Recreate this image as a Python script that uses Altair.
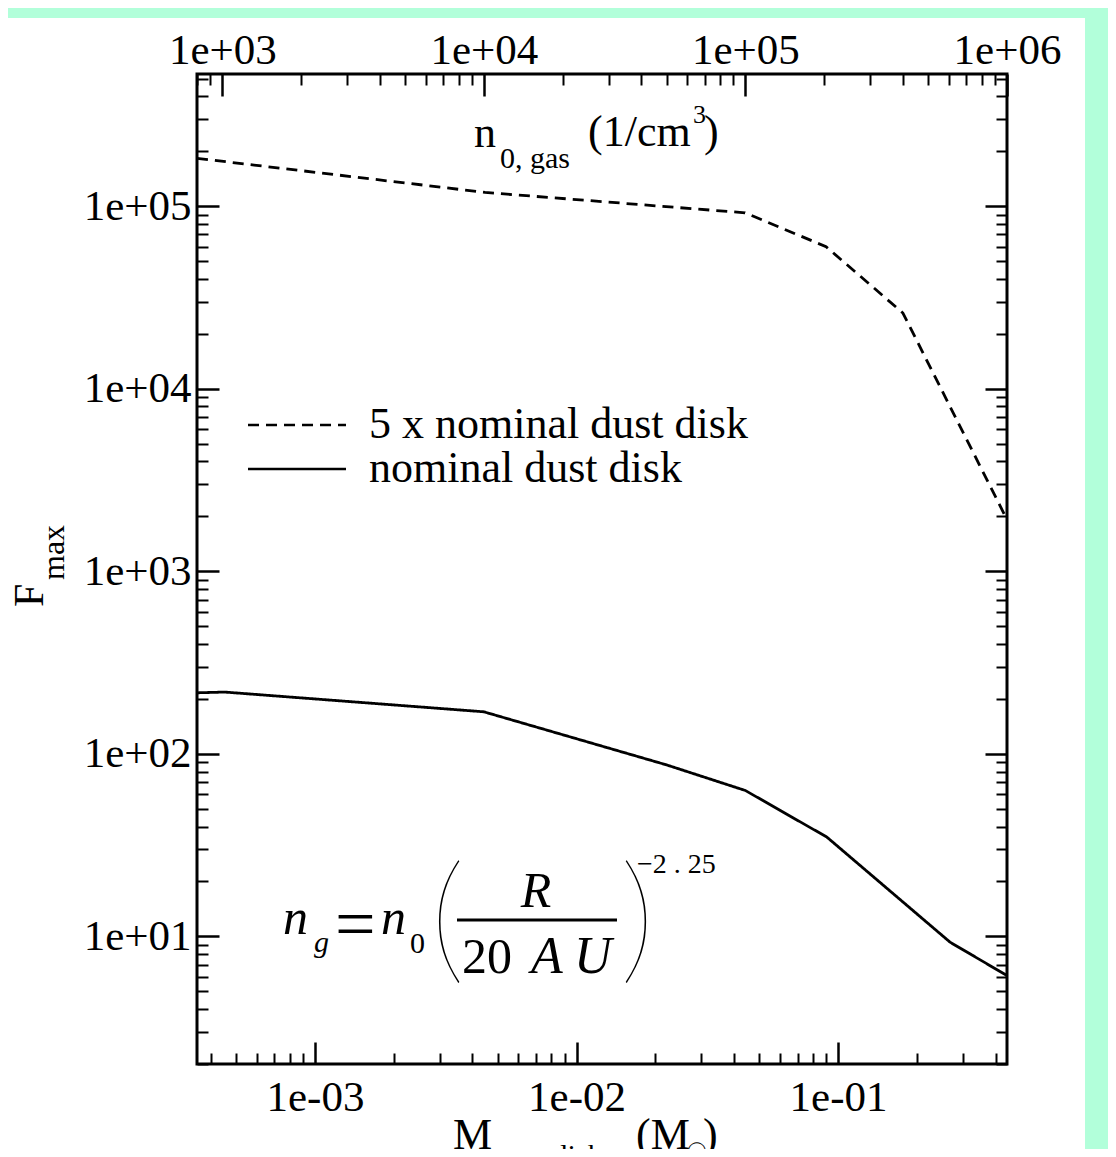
import altair as alt
import pandas as pd

# ---------------- data ----------------
series_names = ["5 x nominal dust disk", "nominal dust disk"]

dashed_mass = [3.54e-4, 4.47e-3, 0.0441, 0.090, 0.177, 0.4425]
dashed_fmax = [1.83e5, 1.19e5, 9.2e4, 6.0e4, 2.6e4, 1.92e3]

solid_mass = [3.54e-4, 4.52e-4, 4.42e-3, 0.0221, 0.0442, 0.0906, 0.268, 0.4425]
solid_fmax = [216, 218, 170, 87, 63, 35, 9.3, 6.1]

mass_domain = [3.54e-4, 0.4425]       # bottom axis, M_gas disk (M_sun)
density_domain = [800, 1.0e6]         # top axis, n_0,gas (1/cm^3)
fmax_domain = [2.0, 5.3e5]            # F_max

mass_major = [1e-3, 1e-2, 1e-1]
density_major = [1e3, 1e4, 1e5, 1e6]
fmax_major = [1e1, 1e2, 1e3, 1e4, 1e5]


def minor_ticks(lo, hi, decades):
    out = []
    for d in decades:
        for k in range(2, 10):
            v = k * d
            if lo <= v * (1 + 1e-9) and v <= hi:
                out.append(v)
    return out


mass_minor = minor_ticks(*mass_domain, [1e-4, 1e-3, 1e-2, 1e-1])
density_minor = minor_ticks(*density_domain, [1e2, 1e3, 1e4, 1e5])
fmax_minor = minor_ticks(*fmax_domain, [1, 1e1, 1e2, 1e3, 1e4, 1e5])

lines_df = pd.DataFrame({
    "M": dashed_mass + solid_mass,
    "F": dashed_fmax + solid_fmax,
    "series": [series_names[0]] * len(dashed_mass) + [series_names[1]] * len(solid_mass),
})
frame_df = pd.DataFrame({"M": mass_domain, "N": density_domain, "F": fmax_domain})
one = pd.DataFrame({"k": [0]})

# ---------------- style ----------------
FONT = "Liberation Serif"
GREEN = "#b2ffda"
W, H = 810, 990
MAJ, MIN = 22, 11

EXP = "round(log(datum.value)/LN10)"
label_expr = f"'1e' + ({EXP} < 0 ? '-' : '+') + (abs({EXP}) < 10 ? '0' : '') + abs({EXP})"

common = dict(domain=False, grid=False, title=None, tickColor="black",
              labelFlush=False, labelOverlap=False, labelFont=FONT,
              labelFontSize=43, labelColor="black", zindex=1)


def major_axis(orient, values, labels=True, pad=6):
    kw = dict(common)
    kw.update(orient=orient, values=values, tickSize=MAJ, offset=-MAJ, tickWidth=2.5)
    if labels:
        kw.update(labelExpr=label_expr, labelPadding=pad)
    else:
        kw.update(labels=False)
    return alt.Axis(**kw)


def minor_axis(orient, values):
    kw = dict(common)
    kw.update(orient=orient, values=values, tickSize=MIN, offset=-MIN, tickWidth=2, labels=False)
    return alt.Axis(**kw)


mass_scale = alt.Scale(type="log", domain=mass_domain, nice=False)
dens_scale = alt.Scale(type="log", domain=density_domain, nice=False)
fmax_scale = alt.Scale(type="log", domain=fmax_domain, nice=False)

# ---------------- layers ----------------
lines = alt.Chart(lines_df).mark_line(strokeWidth=2.8, color="black").encode(
    x=alt.X("M:Q", scale=mass_scale, axis=major_axis("bottom", mass_major, pad=12)),
    y=alt.Y("F:Q", scale=fmax_scale, axis=major_axis("left", fmax_major, pad=6)),
    strokeDash=alt.StrokeDash(
        "series:N",
        scale=alt.Scale(domain=series_names, range=[[11, 7], [1, 0]]),
        legend=alt.Legend(title=None, orient="none", legendX=78, legendY=329,
                          symbolType="M-5,0H5", symbolSize=384, symbolStrokeWidth=2.5,
                          symbolStrokeColor="black", labelFont=FONT, labelFontSize=44,
                          labelColor="black", labelOffset=50, rowPadding=0,
                          labelLimit=800),
    ),
)

minor_bl = alt.Chart(frame_df).mark_point(opacity=0).encode(
    x=alt.X("M:Q", scale=mass_scale, axis=minor_axis("bottom", mass_minor)),
    y=alt.Y("F:Q", scale=fmax_scale, axis=minor_axis("left", fmax_minor)),
)

major_tr = alt.Chart(frame_df).mark_point(opacity=0).encode(
    x=alt.X("N:Q", scale=dens_scale, axis=major_axis("top", density_major, pad=2)),
    y=alt.Y("F:Q", scale=fmax_scale, axis=major_axis("right", fmax_major, labels=False)),
)

minor_tr = alt.Chart(frame_df).mark_point(opacity=0).encode(
    x=alt.X("N:Q", scale=dens_scale, axis=minor_axis("top", density_minor)),
    y=alt.Y("F:Q", scale=fmax_scale, axis=minor_axis("right", fmax_minor)),
)


def txt(text, x, y, size, style="normal", font=FONT, weight="normal", align="left", angle=None):
    kw = dict(text=text, fontSize=size, font=font, fontStyle=style, fontWeight=weight,
              align=align, baseline="alphabetic", color="black")
    if angle is not None:
        kw["angle"] = angle
    return alt.Chart(one).mark_text(**kw).encode(x=alt.value(x), y=alt.value(y))


def rect(x, x2, y, y2, color):
    return alt.Chart(one).mark_rect(color=color).encode(
        x=alt.value(x), x2=alt.value(x2), y=alt.value(y), y2=alt.value(y2))


annotations = [
    # green page border strips
    rect(-189, 911, -66, -56, GREEN),
    rect(888, 911, -66, 1075, GREEN),
    # top axis title  n_{0, gas} (1/cm^3)
    txt("n", 277, 73, 44),
    txt("0, gas", 303, 94, 30),
    txt("(1/cm", 391, 72, 44),
    txt("3", 496, 49, 26),
    txt(")", 507, 72, 44),
    # left axis title F_max
    txt("F", -154, 533, 42, angle=270),
    txt("max", -133, 506, 32, angle=270),
    # bottom axis title M_{gas disk} (M_sun)
    txt("M", 256, 1075, 44),
    txt("gas disk", 308, 1091, 30),
    txt("(M", 439, 1075, 44),
    txt("\u2609", 489, 1086, 24, font="DejaVu Sans"),
    txt(")", 506, 1075, 44),
    # formula n_g = n_0 (R / 20 AU)^-2.25
    txt("n", 86, 860, 50, style="italic"),
    txt("g", 117, 878, 30, style="italic"),
    txt("=", 138, 874, 72),
    txt("n", 184, 860, 50, style="italic"),
    txt("0", 213, 879, 30),
    txt("(", 233, 892, 140, font="Lato", weight=100),
    txt("R", 339, 833, 50, style="italic", align="center"),
    alt.Chart(one).mark_rule(color="black", strokeWidth=3).encode(
        x=alt.value(260), x2=alt.value(420), y=alt.value(846)),
    txt("20", 265, 899, 50),
    txt("A", 334, 899, 52, style="italic"),
    txt("U", 377, 899, 52, style="italic"),
    txt(")", 423, 892, 140, font="Lato", weight=100),
    txt("\u22122 . 25", 440, 799, 28),
]

chart = alt.layer(
    annotations[0], annotations[1], lines, minor_bl, major_tr, minor_tr, *annotations[2:]
).resolve_scale(
    x="independent", y="independent"
).properties(
    width=W, height=H,
    padding={"left": 189, "top": 66, "right": 101, "bottom": 85},
    autosize=alt.AutoSizeParams(type="none"),
).configure(
    background="white"
).configure_view(
    stroke="black", strokeWidth=3
)

chart.save("out.html", embed_options={"renderer": "svg", "actions": False})
